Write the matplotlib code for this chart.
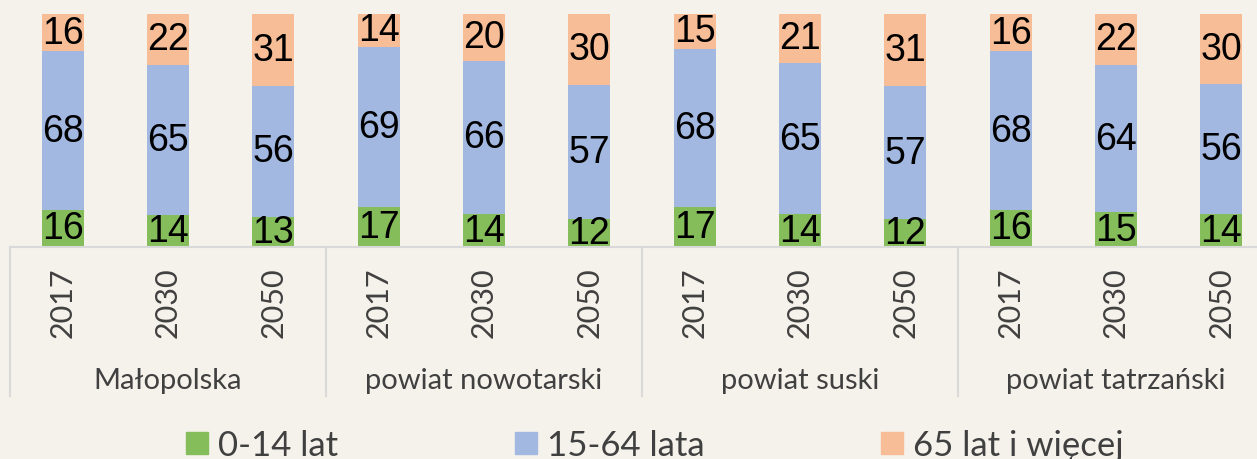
import numpy as np
import matplotlib.pyplot as plt
from matplotlib.lines import Line2D

# data (percent of population)
regions = ["Małopolska", "powiat nowotarski", "powiat suski", "powiat tatrzański"]
years = ["2017", "2030", "2050"]
age_0_14 = [16, 14, 13, 17, 14, 12, 17, 14, 12, 16, 15, 14]
age_15_64 = [68, 65, 56, 69, 66, 57, 68, 65, 57, 68, 64, 56]
age_65_plus = [16, 22, 31, 14, 20, 30, 15, 21, 31, 16, 22, 30]
series_names = ["0-14 lat", "15-64 lata", "65 lat i więcej"]

colors = ["#85bd5b", "#a2b8e1", "#f7bd96"]
bg = "#f5f2eb"
label_font = ["Liberation Sans Narrow", "Liberation Sans", "DejaVu Sans"]
axis_font = ["Lato", "DejaVu Sans"]

fig = plt.figure(figsize=(12.57, 4.6), dpi=100, facecolor=bg)
# axes runs past the right edge, the original picture is cropped there
ax = fig.add_axes([10 / 1257, 212 / 460, 1264 / 1257, 233 / 460])
ax.set_facecolor(bg)

vals = np.array([age_0_14, age_15_64, age_65_plus], dtype=float)
pct = vals / vals.sum(axis=0) * 100  # 100% stacked
x = np.arange(len(age_0_14))
bottom = np.zeros(len(x))
for i in range(3):
    ax.bar(x, pct[i], 0.4, bottom=bottom, color=colors[i])
    for xi, b, h, v in zip(x, bottom, pct[i], vals[i]):
        ax.text(xi, b + h / 2, "%d" % v, ha="center", va="center",
                fontsize=27, family=label_font, color="black")
    bottom += pct[i]

ax.set_xlim(-0.5, len(x) - 0.5)
ax.set_ylim(0, 100)
ax.set_yticks([])
ax.set_xticks(x)
ax.set_xticklabels(years * len(regions), rotation=90, fontsize=22,
                   family=axis_font, color="#404040")
ax.tick_params(axis="x", length=0, pad=14)
for s in ["top", "right", "left"]:
    ax.spines[s].set_visible(False)
ax.spines["bottom"].set_color("#d9d9d9")
ax.spines["bottom"].set_linewidth(1.5)

# group separators and group names
for g in range(len(regions) + 1):
    ax.plot([g * 3 - 0.5, g * 3 - 0.5], [0, -0.64], transform=ax.get_xaxis_transform(),
            color="#d9d9d9", lw=1.5, clip_on=False)
for g, name in enumerate(regions):
    ax.text(g * 3 + 1, -0.57, name, transform=ax.get_xaxis_transform(),
            ha="center", va="center", fontsize=21, family=axis_font, color="#404040")

handles = [Line2D([], [], marker="s", linestyle="none", markersize=16,
                  markerfacecolor=c, markeredgecolor=c) for c in colors]
leg = fig.legend(handles, series_names, ncol=3, loc="center",
                 bbox_to_anchor=(655 / 1257, 1 - 446 / 460), frameon=False,
                 prop={"family": axis_font, "size": 25}, handlelength=0.6,
                 handletextpad=0.3, columnspacing=5.1, labelcolor="#404040")

fig.savefig("out.png", dpi=100, facecolor=bg)
